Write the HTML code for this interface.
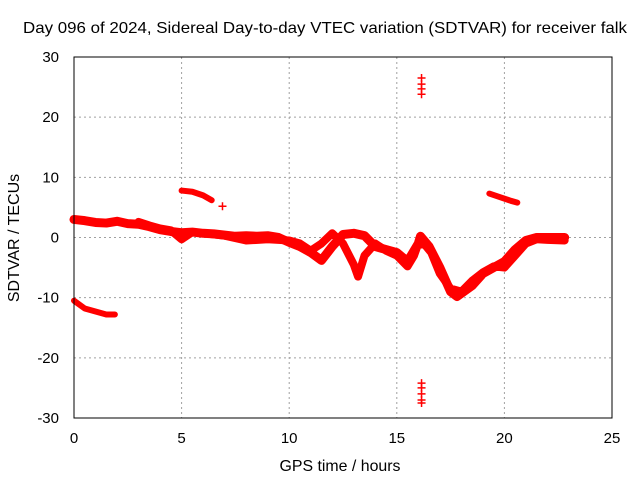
<!DOCTYPE html>
<html><head><meta charset="utf-8"><style>
body{margin:0;background:#fff}
svg{display:block;font-family:"Liberation Sans",sans-serif;font-size:15px}
</style></head><body>
<svg id="c" width="640" height="480">
<text x="325" y="33" text-anchor="middle" textLength="604" lengthAdjust="spacingAndGlyphs" style="font-size:16px">Day 096 of 2024, Sidereal Day-to-day VTEC variation (SDTVAR) for receiver falk</text>
<text x="340" y="471" text-anchor="middle" textLength="121" lengthAdjust="spacingAndGlyphs" style="font-size:16px">GPS time / hours</text>
<text transform="translate(19,238) rotate(-90)" text-anchor="middle" style="font-size:16px">SDTVAR / TECUs</text>
<g id="grid"></g><g id="marks"></g>
<rect x="74" y="57" width="538" height="361" fill="none" stroke="#000"/>
</svg>
<script>
const xTicks=[0,5,10,15,20,25];
const yTicks=[-30,-20,-10,0,10,20,30];
const trackMain=[[0,3.0],[0.5,2.8],[1,2.5],[1.5,2.4],[2,2.7],[2.5,2.3],[3,2.2],[3.5,1.8],[4,1.3],[4.5,1.0],[5,0.8],[5.5,0.9],[6,0.7],[6.5,0.6],[7,0.4],[7.5,0.2],[8,0.3],[8.5,0.2],[9,0.3],[9.5,0.0],[10,-0.8],[10.5,-1.5],[11,-2.5],[11.5,-3.8],[12,-1.5],[12.5,0.5],[13,0.7],[13.5,0.3],[14,-1.5],[14.5,-2.0],[15,-2.5],[15.5,-4.0],[16,-1.0],[16.1,0.2],[16.5,-1.5],[17,-5],[17.5,-9],[17.8,-9.8],[18.5,-8],[19,-6],[19.5,-5],[20,-4],[20.5,-2],[21,-0.5],[21.5,0],[22,0],[22.8,0]];
const trackLoop=[[3,2.6],[3.5,2.0],[4,1.5],[4.5,1.2],[5,-0.3],[5.5,0.9],[7,0.3],[8,-0.5],[9,-0.3],[10,-0.5],[10.5,-1.0],[11,-2.2],[11.5,-1.0],[12,0.7],[12.5,-1.0],[13,-4.5],[13.2,-6.5],[13.5,-3],[14,-1],[14.5,-2.2],[15,-3],[15.5,-4.8],[15.8,-3],[16,-1],[16.3,-1.2],[16.6,-2.5],[17,-6],[17.5,-8.5],[18,-9],[18.5,-7.2],[19,-5.8],[19.5,-4.8],[20,-5],[20.5,-3],[21,-1],[21.5,-0.3],[22,-0.4],[22.8,-0.5]];
const trackLow=[[0,-10.5],[0.5,-11.8],[1,-12.3],[1.5,-12.8],[1.9,-12.8]];
const trackHigh1=[[5,7.8],[5.5,7.6],[6,7.0],[6.4,6.2]];
const trackHigh2=[[19.3,7.3],[19.8,6.7],[20.3,6.1],[20.6,5.8]];
const spikePts=[[6.9,5.2],[16.15,26.5],[16.15,25.5],[16.15,24.7],[16.15,23.8],[16.15,-24.2],[16.15,-25],[16.15,-26],[16.15,-27],[16.15,-27.5]];
const X=h=>74+h*538/25, Y=v=>237.5-v*361/60;
const NS="http://www.w3.org/2000/svg";
const g=document.getElementById('grid'),m=document.getElementById('marks');
function el(t,a,p){const e=document.createElementNS(NS,t);for(const k in a)e.setAttribute(k,a[k]);p.appendChild(e);return e;}
xTicks.forEach(t=>{
 if(t>0&&t<25){const l=el('line',{x1:X(t),x2:X(t),y1:57,y2:418,stroke:'#a0a0a0','stroke-dasharray':'2,3'},g);
 
 }
 const tx=el('text',{x:X(t),y:443,'text-anchor':'middle'},g);tx.textContent=t;
 
 
});
yTicks.forEach(t=>{
 if(t>-30&&t<30){const l=el('line',{x1:74,x2:612,y1:Y(t),y2:Y(t),stroke:'#a0a0a0','stroke-dasharray':'2,3'},g);
 
 }
 const tx=el('text',{x:59,y:Y(t)+5,'text-anchor':'end'},g);tx.textContent=t;
 
 
});
function track(pts,w,name){
 const p=el('polyline',{points:pts.map(d=>X(d[0])+','+Y(d[1])).join(' '),fill:'none',stroke:'#f00','stroke-width':w,'stroke-linejoin':'round','stroke-linecap':'round'},m);
 
 
}
track(trackMain,9,'series-main-track');
track(trackLoop,8,'series-loop-track');
track(trackLow,6,'series-low-track');
track(trackHigh1,6,'series-high-track-1');
track(trackHigh2,6,'series-high-track-2');
spikePts.forEach(d=>{
 const p=el('path',{d:`M${X(d[0])-4},${Y(d[1])}h8M${X(d[0])},${Y(d[1])-4}v8`,stroke:'#f00','stroke-width':1.5},m);
 
 
});
</script>
</body></html>
